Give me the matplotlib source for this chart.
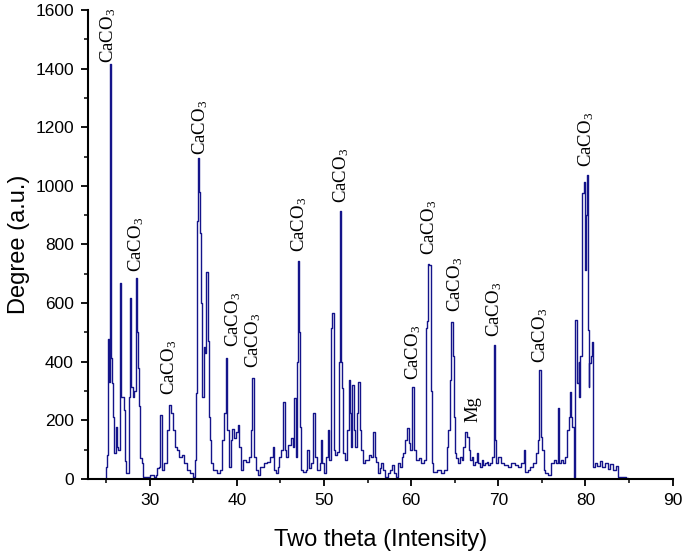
import matplotlib
matplotlib.use('Agg')
import matplotlib.pyplot as plt
from matplotlib.ticker import MultipleLocator

plt.rcParams['font.family'] = ['Liberation Sans', 'DejaVu Sans']
plt.rcParams['mathtext.fontset'] = 'custom'
plt.rcParams['mathtext.rm'] = 'Liberation Serif'
plt.rcParams['mathtext.it'] = 'Liberation Serif'

# XRD trace (two theta, counts)
two_theta = [24.9, 25.1, 25.2, 25.35, 25.45, 25.55, 25.6, 25.7, 25.8, 25.9,
             26.05, 26.15, 26.35, 26.5, 26.6, 26.7, 26.8, 26.95, 27.15, 27.3,
             27.4, 27.55, 27.7, 27.8, 27.95, 28.15, 28.35, 28.5, 28.6, 28.7,
             28.8, 28.9, 29.0, 29.2, 29.4, 29.8, 30.35, 30.6, 30.8, 30.95,
             31.15, 31.35, 31.5, 31.9, 32.2, 32.35, 32.6, 32.75, 33.0, 33.3,
             33.55, 33.8, 34.1, 34.4, 34.8, 35.1, 35.26, 35.35, 35.5, 35.65,
             35.75, 35.85, 35.95, 36.1, 36.3, 36.45, 36.6, 36.7, 36.85, 36.95,
             37.1, 37.5, 37.9, 38.25, 38.45, 38.65, 38.85, 39.0, 39.2, 39.4,
             39.6, 39.8, 40.0, 40.2, 40.4, 40.55, 40.9, 41.3, 41.5, 41.7,
             41.9, 42.1, 42.3, 42.5, 42.9, 43.3, 43.6, 44.0, 44.2, 44.4,
             44.6, 44.8, 45.0, 45.2, 45.4, 45.6, 45.8, 46.05, 46.3, 46.5,
             46.7, 46.9, 47.0, 47.1, 47.2, 47.3, 47.5, 47.8, 48.0, 48.15,
             48.4, 48.7, 48.9, 49.1, 49.4, 49.6, 49.7, 49.95, 50.15, 50.35,
             50.55, 50.7, 50.9, 51.05, 51.2, 51.4, 51.6, 51.75, 51.9, 52.0,
             52.1, 52.25, 52.5, 52.7, 52.95, 53.1, 53.2, 53.35, 53.5, 53.7,
             53.8, 54.0, 54.2, 54.4, 54.55, 54.95, 55.35, 55.5, 55.7, 55.9,
             56.1, 56.3, 56.5, 56.7, 56.9, 57.2, 57.45, 57.7, 57.95, 58.2,
             58.4, 58.6, 58.8, 59.0, 59.25, 59.45, 59.6, 59.85, 60.0, 60.25,
             60.4, 60.7, 61.0, 61.3, 61.55, 61.75, 61.9, 62.0, 62.2, 62.3,
             62.4, 62.7, 63.2, 63.6, 64.0, 64.15, 64.35, 64.55, 64.7, 64.85,
             64.95, 65.05, 65.3, 65.5, 65.7, 65.9, 66.1, 66.3, 66.5, 66.7,
             66.85, 67.05, 67.2, 67.45, 67.6, 67.8, 68.0, 68.2, 68.4, 68.6,
             68.8, 68.95, 69.15, 69.35, 69.55, 69.65, 69.8, 70.1, 70.5, 70.9,
             71.3, 71.7, 72.05, 72.4, 72.8, 73.0, 73.2, 73.5, 73.8, 74.15,
             74.4, 74.6, 74.75, 74.95, 75.1, 75.3, 75.5, 75.9, 76.3, 76.5,
             76.8, 76.95, 77.05, 77.35, 77.6, 77.8, 78.0, 78.15, 78.27, 78.4,
             78.55, 78.75, 78.95, 79.15, 79.25, 79.35, 79.5, 79.6, 79.7, 79.85,
             80.0, 80.1, 80.2, 80.3, 80.4, 80.5, 80.7, 80.8, 80.9, 81.2,
             81.5, 81.8, 82.1, 82.4, 82.7, 83.0, 83.3, 83.6, 83.75, 84.0,
             84.5, 84.8, 85.0]
counts = [0, 42, 82, 478, 330, 1415, 412, 327, 281, 212,
          89, 177, 110, 99, 300, 668, 280, 280, 235, 60,
          20, 20, 280, 617, 315, 280, 300, 686, 500, 380,
          250, 160, 71, 55, 7, 5, 14, 5, 15, 38,
          41, 218, 31, 55, 167, 252, 224, 167, 110, 99,
          76, 82, 55, 31, 20, 7, 65, 293, 880, 1095,
          980, 840, 600, 280, 450, 430, 707, 470, 210, 133,
          55, 31, 20, 31, 133, 224, 413, 167, 41, 133,
          170, 140, 160, 184, 110, 31, 65, 59, 76, 167,
          344, 76, 31, 14, 41, 55, 59, 76, 110, 31,
          20, 41, 76, 99, 263, 99, 76, 116, 140, 110,
          276, 76, 400, 745, 500, 178, 31, 24, 31, 99,
          38, 55, 225, 76, 31, 55, 133, 55, 20, 76,
          167, 65, 515, 566, 99, 82, 92, 400, 914, 400,
          310, 89, 65, 167, 338, 225, 110, 321, 167, 110,
          225, 331, 167, 99, 55, 65, 82, 76, 160, 76,
          59, 20, 38, 55, 31, 7, 20, 31, 48, 20,
          7, 55, 41, 76, 89, 133, 174, 123, 99, 314,
          99, 65, 71, 55, 65, 515, 540, 735, 730, 300,
          55, 25, 31, 20, 31, 110, 167, 338, 535, 420,
          212, 89, 71, 55, 76, 65, 110, 160, 143, 99,
          65, 76, 48, 59, 89, 55, 41, 65, 48, 55,
          59, 48, 55, 76, 457, 133, 55, 76, 55, 48,
          41, 55, 48, 41, 55, 99, 24, 31, 41, 55,
          89, 133, 372, 143, 99, 31, 20, 14, 55, 65,
          55, 242, 55, 65, 55, 76, 167, 212, 297, 212,
          177, 3, 542, 327, 400, 280, 420, 549, 976, 1013,
          713, 900, 1037, 508, 314, 395, 420, 467, 41, 55,
          45, 60, 40, 55, 35, 50, 30, 45, 7, 5,
          8, 3, 0]

# peak annotations: text, x, bottom of text
label_text = ['CaCO$_3$'] * 11 + ['Mg'] + ['CaCO$_3$'] * 3
label_x = [25.3, 28.5, 32.3, 35.8, 39.6, 41.9, 47.2, 52.0, 60.2, 62.1, 65.0,
           67.1, 69.5, 74.8, 80.1]
label_y = [1420, 706, 287, 1105, 450, 379, 775, 940, 338, 764, 570,
           195, 485, 396, 1065]

fig = plt.figure(figsize=(6.85, 5.55), dpi=100)
ax = fig.add_axes([0.128, 0.137, 0.854, 0.845])

ax.plot(two_theta, counts, color='#14148a', lw=1.0, drawstyle='steps-mid')

for t, x, y in zip(label_text, label_x, label_y):
    ax.text(x, y, t, rotation=90, ha='center', va='bottom', fontsize=13.5,
            family='Liberation Serif', color='black')

ax.set_xlim(22.9, 90)
ax.set_ylim(0, 1600)
ax.xaxis.set_major_locator(MultipleLocator(10))
ax.xaxis.set_minor_locator(MultipleLocator(5))
ax.yaxis.set_major_locator(MultipleLocator(200))
ax.yaxis.set_minor_locator(MultipleLocator(100))

for s in ['top', 'right']:
    ax.spines[s].set_visible(False)
for s in ['left', 'bottom']:
    ax.spines[s].set_linewidth(1.5)

ax.tick_params(which='major', direction='out', length=5, width=1.3, labelsize=12.5, pad=5)
ax.tick_params(which='minor', direction='out', length=3, width=1.1)

ax.set_xlabel('Two theta (Intensity)', fontsize=17, labelpad=15)
ax.set_ylabel('Degree (a.u.)', fontsize=17, labelpad=4)

fig.savefig('out.png', dpi=100)
